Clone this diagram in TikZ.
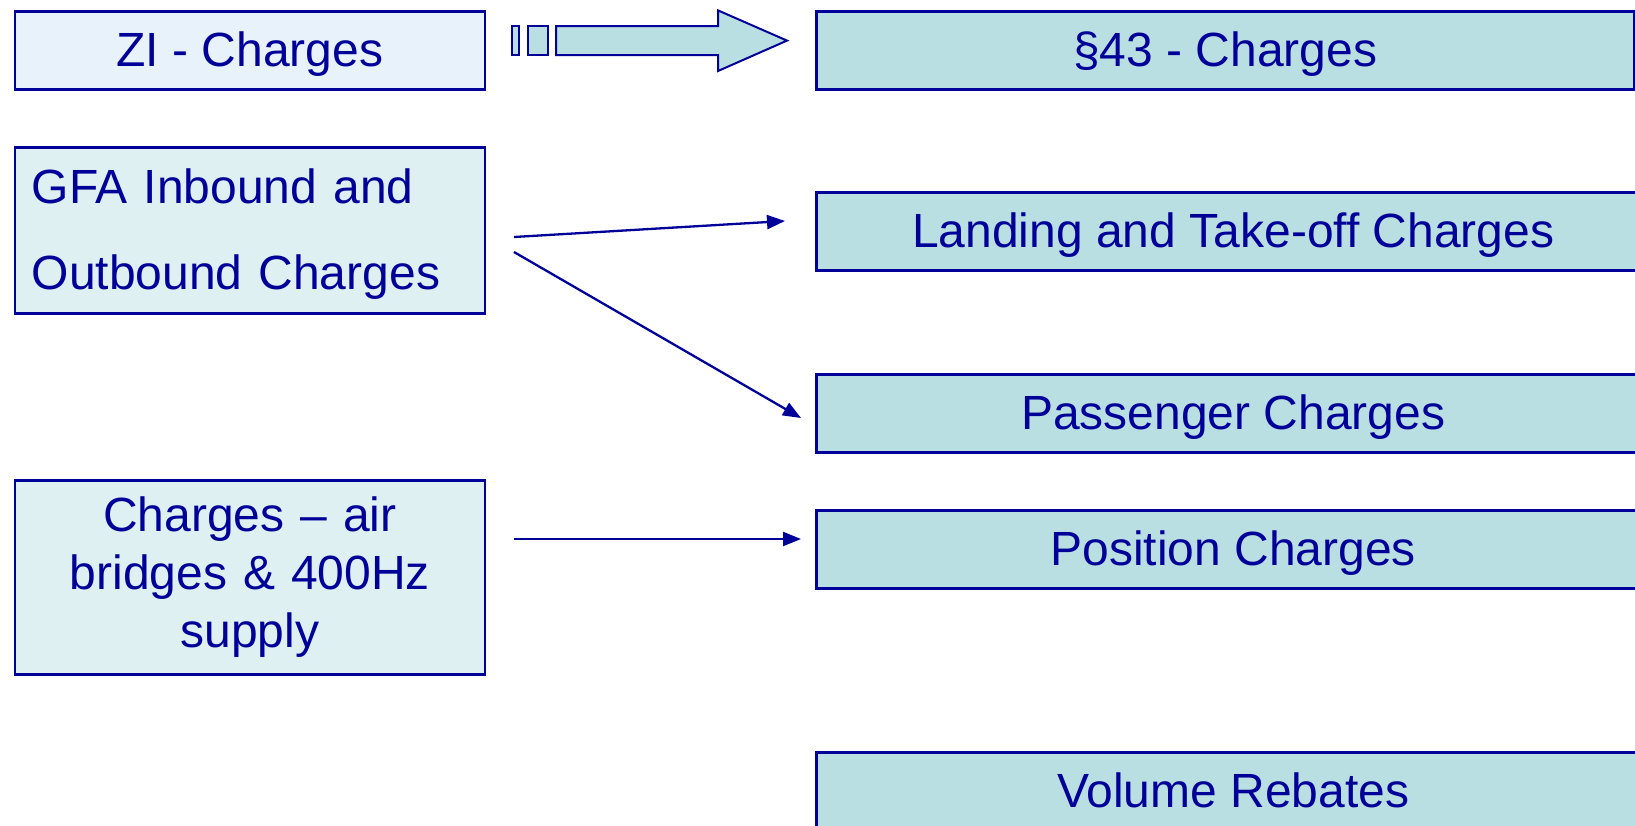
\documentclass[tikz,border=0pt]{standalone}
\usepackage{fontspec}
\setmainfont{Liberation Sans}
\usetikzlibrary{arrows.meta}
\definecolor{navy}{RGB}{0,0,153}
\definecolor{lightbox}{RGB}{231,242,251}
\definecolor{paleteal}{RGB}{222,240,242}
\definecolor{tealbox}{RGB}{186,223,227}
\begin{document}
\begin{tikzpicture}[x=1pt,y=-1pt,
  box/.style={draw=navy, line width=2.5pt, text=navy, font=\fontsize{48}{58}\selectfont, inner sep=0pt, anchor=north west},
  onebox/.style={box, text height=34pt, text depth=2pt},
  rightbox/.style={onebox, fill=tealbox, minimum width=834pt, minimum height=78pt},
  conn/.style={draw=navy, line width=2.3pt, -{Triangle[length=18pt,width=14pt]}}]
\useasboundingbox (0,0) rectangle (1635,825);
\clip (0,0) rectangle (1635,825);
% left boxes
\node[onebox, fill=lightbox, minimum width=470pt, minimum height=78pt] (zi) at (13.6,10.4) {ZI - Charges};
\node[box, fill=paleteal, minimum width=470pt, minimum height=166pt, align=left, text width=436pt,
      text depth=88pt, font=\fontsize{48}{86}\selectfont] (gfa) at (13.6,146) {GFA Inbound and\\Outbound Charges};
\node[box, fill=paleteal, minimum width=470pt, minimum height=194pt, align=center, text width=440pt] (air) at (13.6,479) {Charges -- air\\bridges \& 400Hz\\supply};
% right boxes
\node[rightbox, minimum width=818pt] (s43) at (815,10.4) {\S43 - Charges};
\node[rightbox] (land) at (815,191) {Landing and Take-off Charges};
\node[rightbox] (pass) at (815,373) {Passenger Charges};
\node[rightbox] (pos) at (815,509) {Position Charges};
\node[rightbox] (vol) at (815,751) {Volume Rebates};
% striped block arrow
\begin{scope}[draw=navy, line width=2pt, fill=tealbox]
  \filldraw (512,26) rectangle (519,55);
  \filldraw (528,26) rectangle (548,55);
  \filldraw (556,26) -- (718,26) -- (718,10.4) -- (787,40.6) -- (718,71) -- (718,55) -- (556,55) -- cycle;
\end{scope}
% connectors
\coordinate (g1) at (514,237);
\coordinate (l1) at (785,221);
\coordinate (g2) at (514,252);
\coordinate (p1) at (801,418);
\coordinate (a1) at (514,539);
\coordinate (o1) at (801,539);
\draw[conn] (g1) -- (l1);
\draw[conn] (g2) -- (p1);
\draw[conn] (a1) -- (o1);
\end{tikzpicture}
\end{document}
